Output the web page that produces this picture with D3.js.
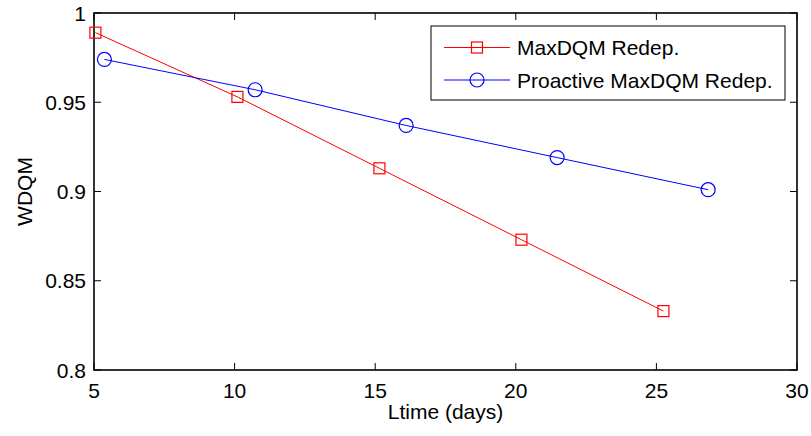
<!DOCTYPE html>
<html>
<head>
<meta charset="utf-8">
<script src="https://cdn.jsdelivr.net/npm/d3@7"></script>
<style>
  html, body { margin: 0; padding: 0; background: #fff; }
  svg { display: block; font-family: "Liberation Sans", Arial, sans-serif; }
</style>
</head>
<body>
<svg id="chart" width="811" height="436"></svg>
<script>
// Series data: lifetime (days) vs. WDQM
const redepX = [5.05, 10.1, 15.15, 20.2, 25.25];
const redepY = [0.989, 0.953, 0.913, 0.873, 0.833];
const proactiveX = [5.37, 10.73, 16.1, 21.47, 26.84];
const proactiveY = [0.974, 0.957, 0.937, 0.919, 0.901];
const seriesNames = ["MaxDQM Redep.", "Proactive MaxDQM Redep."];
const xTicks = [5, 10, 15, 20, 25, 30];
const yTicks = [0.8, 0.85, 0.9, 0.95, 1];
const xTitle = "Ltime (days)";
const yTitle = "WDQM";

const svg = d3.select("#chart");
const plotL = 94, plotR = 797, plotT = 13, plotB = 370;

const x = d3.scaleLinear().domain([5, 30]).range([plotL, plotR]);
const y = d3.scaleLinear().domain([0.8, 1]).range([plotB, plotT]);

const fontSize = 21;
const tickLen = 7;

// Inward ticks on all four sides
const g = svg.append("g");
xTicks.forEach(t => {
  g.append("line").attr("x1", x(t)).attr("x2", x(t)).attr("y1", plotB).attr("y2", plotB - tickLen)
    .attr("stroke", "#000").attr("stroke-width", 1);
  g.append("line").attr("x1", x(t)).attr("x2", x(t)).attr("y1", plotT).attr("y2", plotT + tickLen)
    .attr("stroke", "#000").attr("stroke-width", 1);
  g.append("text").attr("x", x(t)).attr("y", 398).attr("text-anchor", "middle")
    .attr("font-size", fontSize).attr("fill", "#000").text(t);
});
const yFmt = v => String(+v.toFixed(2));
yTicks.forEach(t => {
  g.append("line").attr("x1", plotL).attr("x2", plotL + tickLen).attr("y1", y(t)).attr("y2", y(t))
    .attr("stroke", "#000").attr("stroke-width", 1);
  g.append("line").attr("x1", plotR).attr("x2", plotR - tickLen).attr("y1", y(t)).attr("y2", y(t))
    .attr("stroke", "#000").attr("stroke-width", 1);
  g.append("text").attr("x", plotL - 8).attr("y", y(t) + 7.5).attr("text-anchor", "end")
    .attr("font-size", fontSize).attr("fill", "#000").text(yFmt(t));
});

// Axes box
svg.append("rect").attr("x", plotL).attr("y", plotT).attr("width", plotR - plotL).attr("height", plotB - plotT)
  .attr("fill", "none").attr("stroke", "#000").attr("stroke-width", 1.6);

// Axis titles
svg.append("text").attr("x", (plotL + plotR) / 2).attr("y", 419).attr("text-anchor", "middle")
  .attr("font-size", fontSize).attr("fill", "#000").text(xTitle);
svg.append("text").attr("transform", `translate(32,${(plotT + plotB) / 2}) rotate(-90)`)
  .attr("text-anchor", "middle").attr("font-size", fontSize).attr("fill", "#000").text(yTitle);

const line = d3.line().x(d => x(d[0])).y(d => y(d[1]));
const redPts = d3.zip(redepX, redepY);
const bluePts = d3.zip(proactiveX, proactiveY);

const plot = svg.append("g");
plot.append("path").datum(redPts).attr("d", line).attr("fill", "none").attr("stroke", "#ff0000").attr("stroke-width", 1);
plot.append("path").datum(bluePts).attr("d", line).attr("fill", "none").attr("stroke", "#0000ff").attr("stroke-width", 1);

const sq = 11, rad = 7;
plot.selectAll(".sq").data(redPts).enter().append("rect")
  .attr("x", d => x(d[0]) - sq / 2).attr("y", d => y(d[1]) - sq / 2)
  .attr("width", sq).attr("height", sq)
  .attr("fill", "none").attr("stroke", "#ff0000").attr("stroke-width", 1.2);
plot.selectAll(".ci").data(bluePts).enter().append("circle")
  .attr("cx", d => x(d[0])).attr("cy", d => y(d[1])).attr("r", rad)
  .attr("fill", "none").attr("stroke", "#0000ff").attr("stroke-width", 1.2);

// Legend
const leg = svg.append("g");
leg.append("rect").attr("x", 431).attr("y", 26).attr("width", 354).attr("height", 74)
  .attr("fill", "#fff").attr("stroke", "#000").attr("stroke-width", 1);
const rows = [
  { name: seriesNames[0], color: "#ff0000", marker: "square", cy: 47.5 },
  { name: seriesNames[1], color: "#0000ff", marker: "circle", cy: 80 }
];
rows.forEach(r => {
  leg.append("line").attr("x1", 444).attr("x2", 510).attr("y1", r.cy).attr("y2", r.cy)
    .attr("stroke", r.color).attr("stroke-width", 1);
  if (r.marker === "square") {
    leg.append("rect").attr("x", 477 - sq / 2).attr("y", r.cy - sq / 2).attr("width", sq).attr("height", sq)
      .attr("fill", "none").attr("stroke", r.color).attr("stroke-width", 1.2);
  } else {
    leg.append("circle").attr("cx", 477).attr("cy", r.cy).attr("r", rad)
      .attr("fill", "none").attr("stroke", r.color).attr("stroke-width", 1.2);
  }
  leg.append("text").attr("x", 517).attr("y", r.cy + 7.5).attr("font-size", fontSize)
    .attr("fill", "#000").text(r.name);
});
</script>
</body>
</html>
